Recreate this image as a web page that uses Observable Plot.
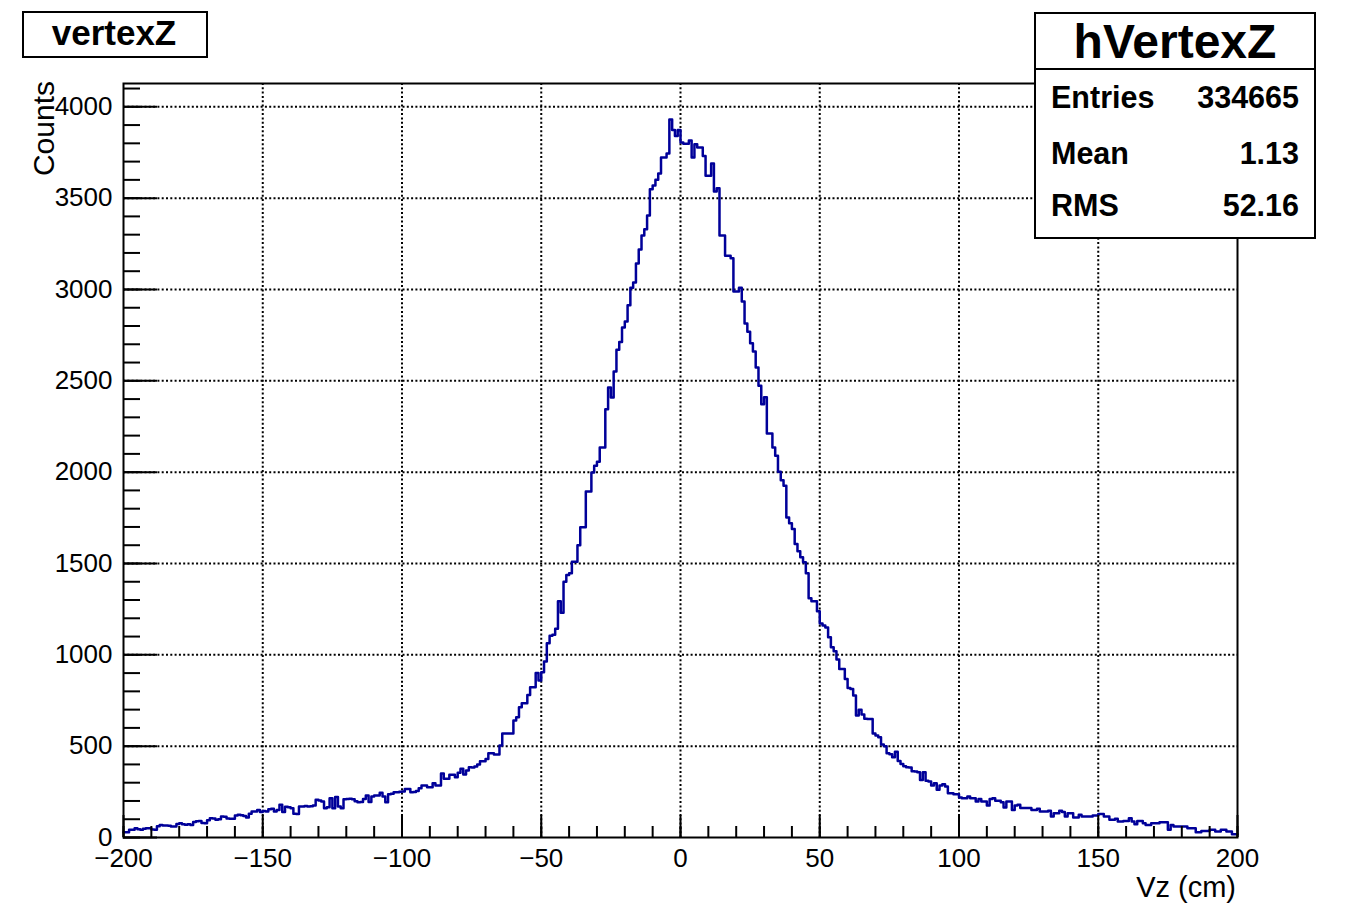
<!DOCTYPE html>
<html><head><meta charset="utf-8">
<script src="https://cdn.jsdelivr.net/npm/d3@7"></script>
<script src="https://cdn.jsdelivr.net/npm/@observablehq/plot@0.6"></script>
<style>
html,body{margin:0;padding:0;background:#fff;}
#wrap{width:1352px;height:916px;}
</style></head><body>
<div id="wrap"></div>
<script>
// Histogram definition
const xMin = -200, xMax = 200, binWidth = 1;
const counts = [
  29, 29, 42, 42, 51, 45, 42, 48, 51, 51,
  44, 42, 62, 69, 66, 66, 64, 60, 60, 74,
  78, 73, 70, 72, 68, 85, 89, 91, 80, 78,
  95, 106, 104, 97, 100, 115, 113, 104, 102, 103,
  120, 124, 122, 118, 109, 130, 142, 143, 150, 140,
  145, 142, 155, 157, 142, 150, 179, 139, 168, 165,
  160, 130, 128, 170, 170, 172, 170, 171, 175, 206,
  203, 197, 160, 165, 215, 160, 222, 170, 160, 210,
  211, 212, 210, 198, 193, 195, 211, 230, 195, 224,
  230, 230, 245, 225, 193, 237, 240, 248, 248, 250,
  252, 265, 265, 248, 249, 255, 270, 284, 284, 275,
  275, 297, 284, 284, 350, 321, 321, 343, 343, 330,
  355, 376, 345, 367, 385, 383, 388, 400, 417, 417,
  430, 461, 461, 454, 454, 503, 570, 570, 570, 570,
  640, 658, 713, 735, 735, 780, 822, 822, 900, 860,
  904, 963, 1063, 1105, 1110, 1143, 1293, 1230, 1400, 1437,
  1446, 1510, 1510, 1600, 1698, 1698, 1894, 1894, 1998, 2035,
  2057, 2135, 2135, 2345, 2464, 2409, 2551, 2670, 2713, 2792,
  2825, 2914, 3010, 3038, 3142, 3219, 3295, 3330, 3405, 3549,
  3569, 3600, 3635, 3722, 3722, 3744, 3931, 3873, 3840, 3873,
  3804, 3798, 3798, 3816, 3722, 3795, 3777, 3777, 3731, 3622,
  3622, 3690, 3536, 3554, 3295, 3295, 3184, 3184, 3171, 2989,
  2989, 3010, 2934, 2814, 2768, 2705, 2661, 2573, 2473, 2372,
  2410, 2212, 2212, 2135, 2090, 2002, 1956, 1925, 1752, 1720,
  1689, 1607, 1567, 1534, 1507, 1447, 1310, 1293, 1293, 1238,
  1172, 1160, 1150, 1096, 1042, 1020, 974, 923, 923, 868,
  819, 813, 777, 668, 699, 673, 650, 649, 649, 570,
  558, 549, 509, 500, 461, 456, 439, 470, 419, 403,
  390, 385, 383, 363, 361, 357, 315, 357, 310, 306,
  284, 297, 261, 284, 291, 279, 242, 242, 237, 237,
  219, 215, 215, 224, 215, 215, 197, 211, 197, 197,
  175, 211, 215, 201, 201, 193, 164, 197, 197, 151,
  175, 179, 161, 161, 161, 161, 151, 151, 157, 142,
  142, 142, 146, 115, 133, 133, 146, 139, 115, 133,
  133, 109, 109, 124, 115, 115, 115, 115, 120, 120,
  128, 128, 115, 115, 97, 97, 102, 88, 88, 91,
  91, 106, 88, 73, 91, 91, 78, 69, 69, 78,
  78, 78, 84, 84, 84, 42, 69, 60, 60, 60,
  60, 60, 51, 51, 51, 29, 29, 36, 36, 36,
  42, 42, 33, 33, 42, 42, 33, 33, 18, 18
];
const xMajorTicks = [-200, -150, -100, -50, 0, 50, 100, 150, 200];
const xMinorTicks = d3.range(-200, 201, 10);
const yMajorTicks = [0, 500, 1000, 1500, 2000, 2500, 3000, 3500, 4000];
const yMinorTicks = d3.range(0, 4101, 100);
const xGridTicks = [-150, -100, -50, 0, 50, 100, 150];
const yGridTicks = [500, 1000, 1500, 2000, 2500, 3000, 3500, 4000];

const titleText = "vertexZ";
const statsTitle = "hVertexZ";
const statLabels = ["Entries", "Mean", "RMS"];
const statValues = ["334665", "1.13", "52.16"];
const xLabel = "Vz (cm)";
const yLabel = "Counts";

// Build step line points from bins
const steps = counts.map((c, i) => ({x: xMin + i * binWidth, y: c}));
steps.push({x: xMax, y: counts[counts.length - 1]});
const yMax = 1.05 * d3.max(counts);

const FONT = "'Liberation Sans', Arial, Helvetica, sans-serif";
const fmt = d3.format("d");

const chart = Plot.plot({
  width: 1352, height: 916,
  marginLeft: 123, marginRight: 115, marginTop: 83, marginBottom: 79,
  style: {fontFamily: FONT, fontSize: "26px", color: "#000", background: "#fff", overflow: "visible"},
  x: {domain: [xMin, xMax]},
  y: {domain: [0, yMax]},
  marks: [
    Plot.ruleX(xGridTicks, {stroke: "#000", strokeWidth: 2, strokeDasharray: "2,2.3"}),
    Plot.ruleY(yGridTicks, {stroke: "#000", strokeWidth: 2, strokeDasharray: "2,2.3"}),
    Plot.line(steps, {x: "x", y: "y", curve: "step-after", stroke: "#000099", strokeWidth: 2.5}),
    Plot.ruleX(xMinorTicks, {y1: 0, y2: 0, insetTop: -11, stroke: "#000", strokeWidth: 2}),
    Plot.ruleX(xMajorTicks, {y1: 0, y2: 0, insetTop: -22, stroke: "#000", strokeWidth: 2}),
    Plot.ruleY(yMinorTicks, {x1: xMin, x2: xMin, insetRight: -17, stroke: "#000", strokeWidth: 2}),
    Plot.ruleY(yMajorTicks, {x1: xMin, x2: xMin, insetRight: -34, stroke: "#000", strokeWidth: 2}),
    Plot.axisX(xMajorTicks, {tickSize: 0, tickPadding: 11, label: null, tickFormat: fmt, fontSize: 26, fill: "#000"}),
    Plot.axisY(yMajorTicks, {tickSize: 0, tickPadding: 11, label: null, tickFormat: fmt, fontSize: 26, fill: "#000"}),
    Plot.frame({stroke: "#000", strokeWidth: 2})
  ]
});

document.getElementById("wrap").appendChild(chart);
const svg = d3.select(chart);

// Axis titles
svg.append("text")
  .attr("x", 1236).attr("y", 897)
  .attr("text-anchor", "end")
  .style("font-family", FONT).style("font-size", "29px").attr("fill", "#000")
  .text(xLabel);
svg.append("text")
  .attr("transform", "translate(54,81) rotate(-90)")
  .attr("text-anchor", "end")
  .style("font-family", FONT).style("font-size", "30px").attr("fill", "#000")
  .text(yLabel);

// Title box
const tb = svg.append("g");
tb.append("rect").attr("x", 23).attr("y", 12).attr("width", 184).attr("height", 45)
  .attr("fill", "#fff").attr("stroke", "#000").attr("stroke-width", 2);
tb.append("text").attr("x", 114).attr("y", 45).attr("text-anchor", "middle")
  .style("font-family", FONT).style("font-size", "35px").style("font-weight", "bold").attr("fill", "#000")
  .text(titleText);

// Stats box
const sb = svg.append("g");
sb.append("rect").attr("x", 1035).attr("y", 13).attr("width", 280).attr("height", 225)
  .attr("fill", "#fff").attr("stroke", "#000").attr("stroke-width", 2);
sb.append("line").attr("x1", 1035).attr("x2", 1315).attr("y1", 69).attr("y2", 69)
  .attr("stroke", "#000").attr("stroke-width", 2);
sb.append("text").attr("x", 1175).attr("y", 58).attr("text-anchor", "middle")
  .style("font-family", FONT).style("font-size", "48px").style("font-weight", "bold").attr("fill", "#000")
  .text(statsTitle);
const rowY = [108, 164, 216];
statLabels.forEach((lab, i) => {
  sb.append("text").attr("x", 1051).attr("y", rowY[i]).attr("text-anchor", "start")
    .style("font-family", FONT).style("font-size", "30.5px").style("font-weight", "bold").attr("fill", "#000")
    .text(lab);
  sb.append("text").attr("x", 1299).attr("y", rowY[i]).attr("text-anchor", "end")
    .style("font-family", FONT).style("font-size", "30.5px").style("font-weight", "bold").attr("fill", "#000")
    .text(statValues[i]);
});
</script>
</body></html>
